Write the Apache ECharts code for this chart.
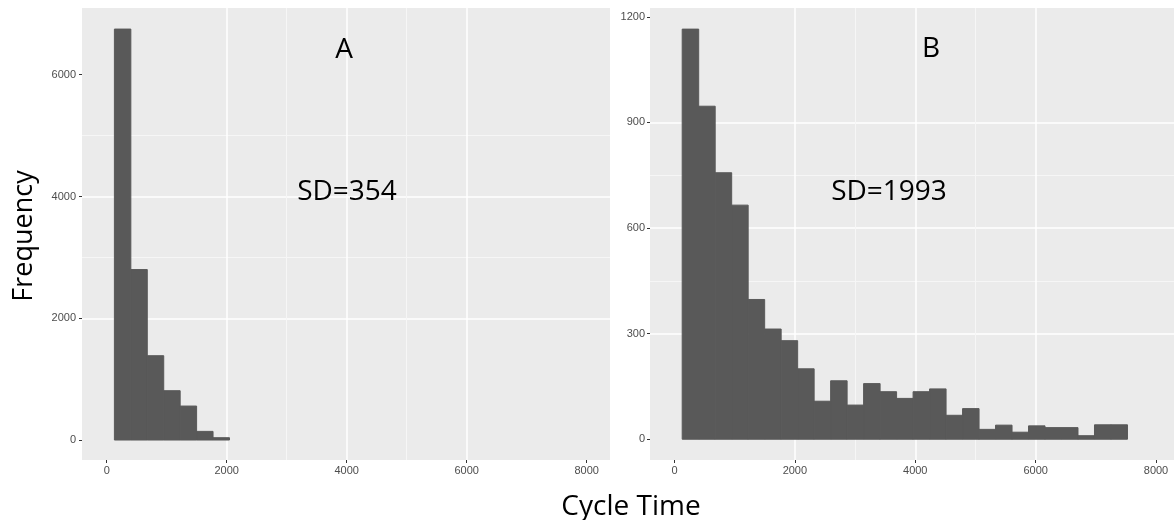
<!DOCTYPE html>
<html>
<head>
<meta charset="utf-8">
<script src="https://cdn.jsdelivr.net/npm/echarts@6/dist/echarts.min.js"></script>
<style>
html,body{margin:0;padding:0;background:#fff;}
#chart{width:1174px;height:520px;}
</style>
</head>
<body>
<div id="chart"></div>
<script>
// ---- Data ----
var binWidth = 274;            // histogram bin width (cycle time units)
var binStart = 128;            // left edge of first bin
var countsA = [6750, 2800, 1385, 810, 558, 142, 38];
var countsB = [1165, 946, 757, 665, 397, 313, 280, 200, 108, 166, 97, 158, 135, 116,
               135, 143, 68, 87, 28, 40, 20, 38, 33, 33, 10, 41, 41];
var xTicks = [0, 2000, 4000, 6000, 8000];
var xMinor = [1000, 3000, 5000, 7000];
var yTicksA = [0, 2000, 4000, 6000];
var yMinorA = [1000, 3000, 5000, 7000];
var yTicksB = [0, 300, 600, 900, 1200];
var yMinorB = [150, 450, 750, 1050];
var labelA = 'A', sdA = 'SD=354';
var labelB = 'B', sdB = 'SD=1993';
var xTitle = 'Cycle Time', yTitle = 'Frequency';

function bins(counts){
  var out = [];
  for (var i = 0; i < counts.length; i++) {
    out.push([binStart + i * binWidth, binStart + (i + 1) * binWidth, counts[i]]);
  }
  return out;
}

var chart = echarts.init(document.getElementById('chart'));
var tickFont = {color:'#4D4D4D', fontSize:11, fontFamily:'Liberation Sans, Arial, sans-serif'};
var bigFont = '28px "Open Sans", sans-serif';
function plain(v){ return String(v); }

function majorX(grid, min, max){
  return {type:'value', gridIndex:grid, position:'bottom', offset:0, min:min, max:max,
    axisLine:{show:false, onZero:false},
    axisTick:{show:true, length:3, lineStyle:{color:'#333', width:1}, customValues:xTicks},
    axisLabel:Object.assign({show:true, margin:5, customValues:xTicks, formatter:plain}, tickFont),
    splitLine:{show:true, showMinLine:false, showMaxLine:false, lineStyle:{color:'#FFFFFF', width:1.5}}};
}
function minorX(grid, min, max){
  return {type:'value', gridIndex:grid, position:'bottom', offset:0, min:min, max:max,
    axisLine:{show:false, onZero:false},
    axisTick:{show:false, customValues:xMinor},
    axisLabel:{show:false, customValues:xMinor},
    splitLine:{show:true, showMinLine:false, showMaxLine:false, lineStyle:{color:'#F6F6F6', width:1}}};
}
function majorY(grid, min, max, ticks, margin){
  return {type:'value', gridIndex:grid, position:'left', offset:0, min:min, max:max,
    axisLine:{show:false, onZero:false},
    axisTick:{show:true, length:3, lineStyle:{color:'#333', width:1}, customValues:ticks},
    axisLabel:Object.assign({show:true, margin:margin, customValues:ticks, formatter:plain}, tickFont),
    splitLine:{show:true, showMinLine:false, showMaxLine:false, lineStyle:{color:'#FFFFFF', width:1.5}}};
}
function minorY(grid, min, max, ticks){
  return {type:'value', gridIndex:grid, position:'left', offset:0, min:min, max:max,
    axisLine:{show:false, onZero:false},
    axisTick:{show:false, customValues:ticks},
    axisLabel:{show:false, customValues:ticks},
    splitLine:{show:true, showMinLine:false, showMaxLine:false, lineStyle:{color:'#F6F6F6', width:1}}};
}

function renderBin(params, api){
  var p0 = api.coord([api.value(0), api.value(2)]);
  var p1 = api.coord([api.value(1), 0]);
  return {type:'rect', shape:{x:p0[0], y:p0[1], width:p1[0]-p0[0], height:p1[1]-p0[1]},
          style:{fill:'#595959', stroke:'#595959', lineWidth:1}};
}

chart.setOption({
  animation:false,
  backgroundColor:'#FFFFFF',
  grid:[
    {left:82, top:8, width:528, height:452, show:true, backgroundColor:'#EBEBEB', borderWidth:0, containLabel:false, outerBoundsMode:'none'},
    {left:650, top:8, width:524, height:452, show:true, backgroundColor:'#EBEBEB', borderWidth:0, containLabel:false, outerBoundsMode:'none'}
  ],
  xAxis:[
    minorX(0, -412, 8388), majorX(0, -412, 8388),
    minorX(1, -407, 8299), majorX(1, -407, 8299)
  ],
  yAxis:[
    minorY(0, -328, 7096, yMinorA), majorY(0, -328, 7096, yTicksA, 6),
    minorY(1, -59, 1225, yMinorB), majorY(1, -59, 1225, yTicksB, 5)
  ],
  series:[
    {type:'custom', xAxisIndex:1, yAxisIndex:1, data:bins(countsA), encode:{x:[0,1], y:2}, renderItem:renderBin},
    {type:'custom', xAxisIndex:3, yAxisIndex:3, data:bins(countsB), encode:{x:[0,1], y:2}, renderItem:renderBin}
  ],
  graphic:[
    {type:'text', x:344, y:50, z:10, style:{text:labelA, font:bigFont, fill:'#000', textAlign:'center', textVerticalAlign:'middle'}},
    {type:'text', x:347, y:192, z:10, style:{text:sdA, font:bigFont, fill:'#000', textAlign:'center', textVerticalAlign:'middle'}},
    {type:'text', x:931, y:49, z:10, style:{text:labelB, font:bigFont, fill:'#000', textAlign:'center', textVerticalAlign:'middle'}},
    {type:'text', x:889, y:192, z:10, style:{text:sdB, font:bigFont, fill:'#000', textAlign:'center', textVerticalAlign:'middle'}},
    {type:'text', x:631, y:507, z:10, style:{text:xTitle, font:bigFont, fill:'#000', textAlign:'center', textVerticalAlign:'middle'}},
    {type:'text', x:24, y:236, rotation:Math.PI/2, z:10, style:{text:yTitle, font:'27px "Open Sans", sans-serif', fill:'#000', textAlign:'center', textVerticalAlign:'middle'}}
  ]
});
</script>
</body>
</html>
